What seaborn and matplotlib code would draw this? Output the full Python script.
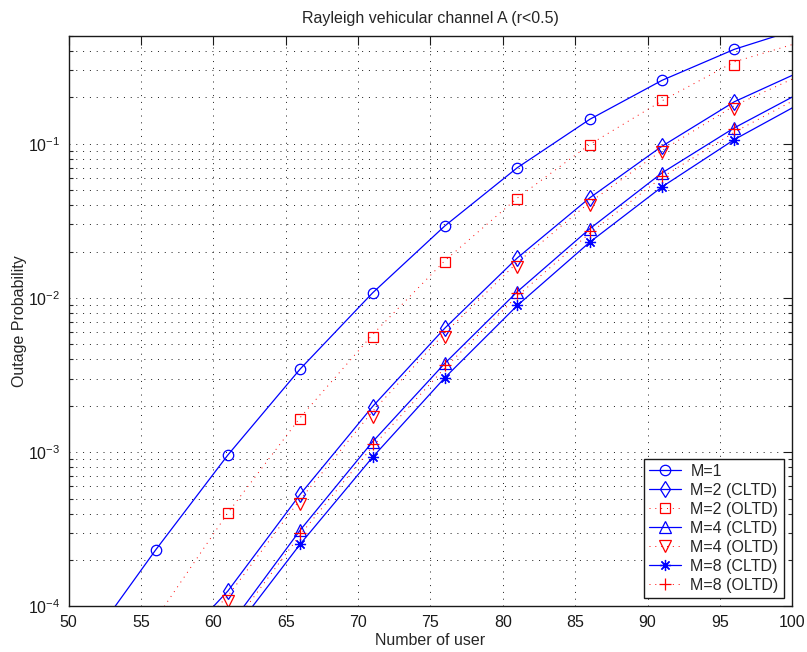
import numpy as np
import pandas as pd
import matplotlib
matplotlib.use("Agg")
import matplotlib.pyplot as plt
from matplotlib.lines import Line2D
from matplotlib.ticker import LogLocator, NullFormatter, MultipleLocator
import seaborn as sns

# -----------------------------
# DATA
# -----------------------------
nan = np.nan
users = [56, 61, 66, 71, 76, 81, 86, 91, 96]

# simulated points (markers)
m1 = [2.32e-4, 9.6e-4, 3.47e-3, 1.08e-2, 2.94e-2, 0.070, 0.144, 0.258, 0.41]
m2_cltd = [nan, 1.26e-4, 5.34e-4, 1.98e-3, 6.39e-3, 1.82e-2, 4.46e-2, 0.0965, 0.1875]
m2_oltd = [nan, 4.02e-4, 1.64e-3, 5.63e-3, 1.70e-2, 4.39e-2, 0.098, 0.191, 0.324]
m4_cltd = [nan, nan, 3.13e-4, 1.17e-3, 3.78e-3, 1.10e-2, 2.81e-2, 0.0648, 0.127]
m4_oltd = [nan, 1.08e-4, 4.61e-4, 1.70e-3, 5.58e-3, 1.59e-2, 4.04e-2, 0.0882, 0.169]
m8_cltd = [nan, nan, 2.54e-4, 9.29e-4, 3.05e-3, 8.95e-3, 2.30e-2, 0.0526, 0.1066]
m8_oltd = [nan, nan, 2.98e-4, 1.13e-3, 3.69e-3, 1.07e-2, 2.71e-2, 0.0622, 0.124]

# analytical curves (x, y) incl. where they leave the axes
m1_curve_x = [53.2, 56, 61, 66, 71, 76, 81, 86, 91, 96, 98.9]
m1_curve_y = [1e-4, 2.32e-4, 9.6e-4, 3.47e-3, 1.08e-2, 2.94e-2, 0.070, 0.144, 0.258, 0.41, 0.5]

m2c_curve_x = [60.0, 61, 66, 71, 76, 81, 86, 91, 96, 100]
m2c_curve_y = [1e-4, 1.26e-4, 5.34e-4, 1.98e-3, 6.39e-3, 1.82e-2, 4.46e-2, 0.0965, 0.1875, 0.278]

m2o_curve_x = [56.6, 61, 66, 71, 76, 81, 86, 91, 96, 100]
m2o_curve_y = [1e-4, 4.05e-4, 1.68e-3, 5.8e-3, 1.75e-2, 4.45e-2, 0.099, 0.19, 0.34, 0.44]

m4c_curve_x = [62.1, 66, 71, 76, 81, 86, 91, 96, 100]
m4c_curve_y = [1e-4, 3.13e-4, 1.17e-3, 3.78e-3, 1.10e-2, 2.81e-2, 0.0648, 0.127, 0.201]

m4o_curve_x = [60.3, 61, 66, 71, 76, 81, 86, 91, 96, 100]
m4o_curve_y = [1e-4, 1.17e-4, 4.95e-4, 1.84e-3, 5.95e-3, 1.70e-2, 4.17e-2, 0.0905, 0.177, 0.263]

m8c_curve_x = [62.7, 66, 71, 76, 81, 86, 91, 96, 100]
m8c_curve_y = [1e-4, 2.54e-4, 9.29e-4, 3.05e-3, 8.95e-3, 2.30e-2, 0.0526, 0.1066, 0.171]

m8o_curve_x = [62.3, 66, 71, 76, 81, 86, 91, 96, 100]
m8o_curve_y = [1e-4, 2.92e-4, 1.09e-3, 3.53e-3, 1.03e-2, 2.63e-2, 0.0607, 0.119, 0.189]

labels = ["M=1", "M=2 (CLTD)", "M=2 (OLTD)", "M=4 (CLTD)",
          "M=4 (OLTD)", "M=8 (CLTD)", "M=8 (OLTD)"]

# -----------------------------
# STYLE
# -----------------------------
sns.set_theme(style="white")
plt.rcParams["font.family"] = ["Liberation Sans", "DejaVu Sans"]
plt.rcParams["mathtext.default"] = "regular"
FS = 11.5

BLUE = "#0000ff"
RED = "#ff0000"
DOT = (0, (1, 5))
ASTER = (8, 2, 0)

series = [
    (labels[0], m1, m1_curve_x, m1_curve_y, BLUE, "-", "o", 7.5),
    (labels[1], m2_cltd, m2c_curve_x, m2c_curve_y, BLUE, "-", "d", 8.5),
    (labels[2], m2_oltd, m2o_curve_x, m2o_curve_y, RED, DOT, "s", 7),
    (labels[3], m4_cltd, m4c_curve_x, m4c_curve_y, BLUE, "-", "^", 8),
    (labels[4], m4_oltd, m4o_curve_x, m4o_curve_y, RED, DOT, "v", 8),
    (labels[5], m8_cltd, m8c_curve_x, m8c_curve_y, BLUE, "-", ASTER, 8),
    (labels[6], m8_oltd, m8o_curve_x, m8o_curve_y, RED, DOT, "+", 8.5),
]

fig = plt.figure(figsize=(8.07, 6.52), dpi=100)
ax = fig.add_axes([0.0851, 0.0698, 0.8967, 0.875])
ax.set_yscale("log")

# -----------------------------
# CURVES + MARKERS
# -----------------------------
handles = []
for name, pts, cx, cy, col, ls, mk, ms in series:
    lw = 0.9 if ls == "-" else 0.7
    curve = pd.DataFrame({"x": cx, "y": cy})
    sns.lineplot(data=curve, x="x", y="y", ax=ax, color=col,
                 linewidth=lw, linestyle=ls,
                 estimator=None, sort=False, legend=False)

    sim = pd.DataFrame({"x": users, "y": pts}).dropna()
    sns.lineplot(data=sim, x="x", y="y", ax=ax, linestyle="none",
                 marker=mk, markersize=ms, markerfacecolor="none",
                 markeredgecolor=col, markeredgewidth=0.9,
                 color=col, estimator=None, legend=False)

    handles.append(Line2D([0], [0], color=col, linestyle=ls, linewidth=lw,
                          marker=mk, markersize=ms, markerfacecolor="none",
                          markeredgecolor=col, markeredgewidth=0.9))

# -----------------------------
# AXES
# -----------------------------
ax.set_xlim(50, 100)
ax.set_ylim(1e-4, 0.5)
ax.xaxis.set_major_locator(MultipleLocator(5))
ax.yaxis.set_major_locator(LogLocator(base=10, numticks=10))
ax.yaxis.set_minor_locator(LogLocator(base=10, subs=np.arange(2, 10), numticks=20))
ax.yaxis.set_minor_formatter(NullFormatter())

ax.grid(True, which="major", axis="both", color="k", linestyle=(0, (1, 6)), linewidth=0.7)
ax.grid(True, which="minor", axis="y", color="k", linestyle=(0, (1, 6)), linewidth=0.7)

ax.tick_params(which="major", direction="in", length=6.5, width=0.8,
               top=True, right=True, labelsize=FS, pad=6, colors="k")
ax.tick_params(which="minor", direction="in", length=3.2, width=0.8,
               top=False, right=True, left=True)
ax.tick_params(axis="x", which="minor", bottom=False, top=False)

for sp in ax.spines.values():
    sp.set_color("k")
    sp.set_linewidth(1.0)

ax.set_xlabel("Number of user", fontsize=FS, labelpad=2)
ax.set_ylabel("Outage Probability", fontsize=FS, labelpad=1)
ax.set_title("Rayleigh vehicular channel A (r<0.5)", fontsize=FS, pad=9)

leg = ax.legend(handles, labels, loc="lower right", fontsize=FS,
                frameon=True, fancybox=False, framealpha=1, edgecolor="k",
                handlelength=2.0, handletextpad=0.6, labelspacing=0.25,
                borderpad=0.3, borderaxespad=0.55)
leg.get_frame().set_linewidth(1.0)

fig.savefig("out.png", dpi=100)
plt.close(fig)
